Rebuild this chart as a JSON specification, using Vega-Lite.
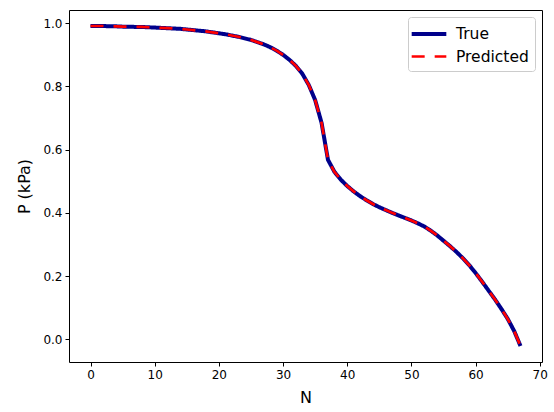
{
  "$schema": "https://vega.github.io/schema/vega-lite/v6.json",
  "width": 473,
  "height": 352,
  "autosize": {"type": "none"},
  "padding": {"left": 69, "top": 10, "right": 12, "bottom": 50},
  "background": "white",
  "config": {
    "font": "DejaVu Sans",
    "view": {"stroke": "black", "strokeWidth": 1},
    "axis": {
      "grid": false,
      "domain": false,
      "tickColor": "black",
      "tickSize": 4,
      "labelFontSize": 12,
      "labelColor": "black",
      "titleFontSize": 16,
      "titleFontWeight": "normal",
      "titleColor": "black",
      "labelPadding": 3
    },
    "legend": {
      "orient": "top-right", "offset": 7,
      "symbolType": "M-2,0H2", "symbolSize": 300, "symbolOffset": 4,
      "labelFontSize": 15.5, "labelColor": "black",
      "fillColor": "white", "strokeColor": "#cccccc", "cornerRadius": 3,
      "padding": 6, "rowPadding": 3, "labelOffset": 16
    }
  },
  "data": {
    "values": [
      {"N": 0, "True": 0.991, "Predicted": 0.991},
      {"N": 1, "True": 0.991, "Predicted": 0.991},
      {"N": 2, "True": 0.991, "Predicted": 0.991},
      {"N": 3, "True": 0.990, "Predicted": 0.990},
      {"N": 4, "True": 0.990, "Predicted": 0.990},
      {"N": 5, "True": 0.989, "Predicted": 0.989},
      {"N": 6, "True": 0.989, "Predicted": 0.989},
      {"N": 7, "True": 0.988, "Predicted": 0.988},
      {"N": 8, "True": 0.988, "Predicted": 0.988},
      {"N": 9, "True": 0.987, "Predicted": 0.987},
      {"N": 10, "True": 0.986, "Predicted": 0.986},
      {"N": 11, "True": 0.985, "Predicted": 0.985},
      {"N": 12, "True": 0.984, "Predicted": 0.984},
      {"N": 13, "True": 0.983, "Predicted": 0.983},
      {"N": 14, "True": 0.982, "Predicted": 0.982},
      {"N": 15, "True": 0.980, "Predicted": 0.980},
      {"N": 16, "True": 0.978, "Predicted": 0.978},
      {"N": 17, "True": 0.976, "Predicted": 0.976},
      {"N": 18, "True": 0.974, "Predicted": 0.974},
      {"N": 19, "True": 0.971, "Predicted": 0.971},
      {"N": 20, "True": 0.968, "Predicted": 0.968},
      {"N": 21, "True": 0.965, "Predicted": 0.965},
      {"N": 22, "True": 0.961, "Predicted": 0.961},
      {"N": 23, "True": 0.957, "Predicted": 0.957},
      {"N": 24, "True": 0.952, "Predicted": 0.952},
      {"N": 25, "True": 0.947, "Predicted": 0.947},
      {"N": 26, "True": 0.940, "Predicted": 0.940},
      {"N": 27, "True": 0.933, "Predicted": 0.933},
      {"N": 28, "True": 0.924, "Predicted": 0.924},
      {"N": 29, "True": 0.913, "Predicted": 0.913},
      {"N": 30, "True": 0.900, "Predicted": 0.900},
      {"N": 31, "True": 0.884, "Predicted": 0.884},
      {"N": 32, "True": 0.865, "Predicted": 0.865},
      {"N": 33, "True": 0.840, "Predicted": 0.840},
      {"N": 34, "True": 0.805, "Predicted": 0.805},
      {"N": 35, "True": 0.757, "Predicted": 0.757},
      {"N": 36, "True": 0.685, "Predicted": 0.685},
      {"N": 37, "True": 0.568, "Predicted": 0.568},
      {"N": 38, "True": 0.530, "Predicted": 0.530},
      {"N": 39, "True": 0.505, "Predicted": 0.505},
      {"N": 40, "True": 0.485, "Predicted": 0.485},
      {"N": 41, "True": 0.468, "Predicted": 0.468},
      {"N": 42, "True": 0.453, "Predicted": 0.453},
      {"N": 43, "True": 0.440, "Predicted": 0.440},
      {"N": 44, "True": 0.428, "Predicted": 0.428},
      {"N": 45, "True": 0.418, "Predicted": 0.418},
      {"N": 46, "True": 0.409, "Predicted": 0.409},
      {"N": 47, "True": 0.400, "Predicted": 0.400},
      {"N": 48, "True": 0.392, "Predicted": 0.392},
      {"N": 49, "True": 0.384, "Predicted": 0.384},
      {"N": 50, "True": 0.376, "Predicted": 0.376},
      {"N": 51, "True": 0.367, "Predicted": 0.367},
      {"N": 52, "True": 0.357, "Predicted": 0.357},
      {"N": 53, "True": 0.344, "Predicted": 0.344},
      {"N": 54, "True": 0.329, "Predicted": 0.329},
      {"N": 55, "True": 0.312, "Predicted": 0.312},
      {"N": 56, "True": 0.295, "Predicted": 0.295},
      {"N": 57, "True": 0.277, "Predicted": 0.277},
      {"N": 58, "True": 0.257, "Predicted": 0.257},
      {"N": 59, "True": 0.235, "Predicted": 0.235},
      {"N": 60, "True": 0.210, "Predicted": 0.210},
      {"N": 61, "True": 0.183, "Predicted": 0.183},
      {"N": 62, "True": 0.155, "Predicted": 0.155},
      {"N": 63, "True": 0.127, "Predicted": 0.127},
      {"N": 64, "True": 0.097, "Predicted": 0.097},
      {"N": 65, "True": 0.065, "Predicted": 0.065},
      {"N": 66, "True": 0.027, "Predicted": 0.027},
      {"N": 67, "True": -0.021, "Predicted": -0.021}
    ]
  },
  "transform": [{"fold": ["True", "Predicted"], "as": ["series", "P"]}],
  "mark": {"type": "line", "clip": true, "strokeCap": "butt"},
  "encoding": {
    "x": {
      "field": "N", "type": "quantitative",
      "scale": {"domain": [-3.35, 70.35], "nice": false, "zero": false},
      "axis": {"values": [0, 10, 20, 30, 40, 50, 60, 70], "title": "N", "titlePadding": 9}
    },
    "y": {
      "field": "P", "type": "quantitative",
      "scale": {"domain": [-0.0716, 1.0416], "nice": false, "zero": false},
      "axis": {"values": [0, 0.2, 0.4, 0.6, 0.8, 1.0], "format": ".1f", "title": "P (kPa)", "titlePadding": 10}
    },
    "color": {
      "field": "series", "type": "nominal",
      "scale": {"domain": ["True", "Predicted"], "range": ["#00008b", "#ff0000"]},
      "legend": {"title": null}
    },
    "strokeDash": {
      "field": "series", "type": "nominal",
      "scale": {"domain": ["True", "Predicted"], "range": [[1, 0], [13, 10]]},
      "legend": {"title": null}
    },
    "strokeWidth": {
      "field": "series", "type": "nominal",
      "scale": {"domain": ["True", "Predicted"], "range": [4, 2.7]},
      "legend": {"title": null}
    }
  }
}
